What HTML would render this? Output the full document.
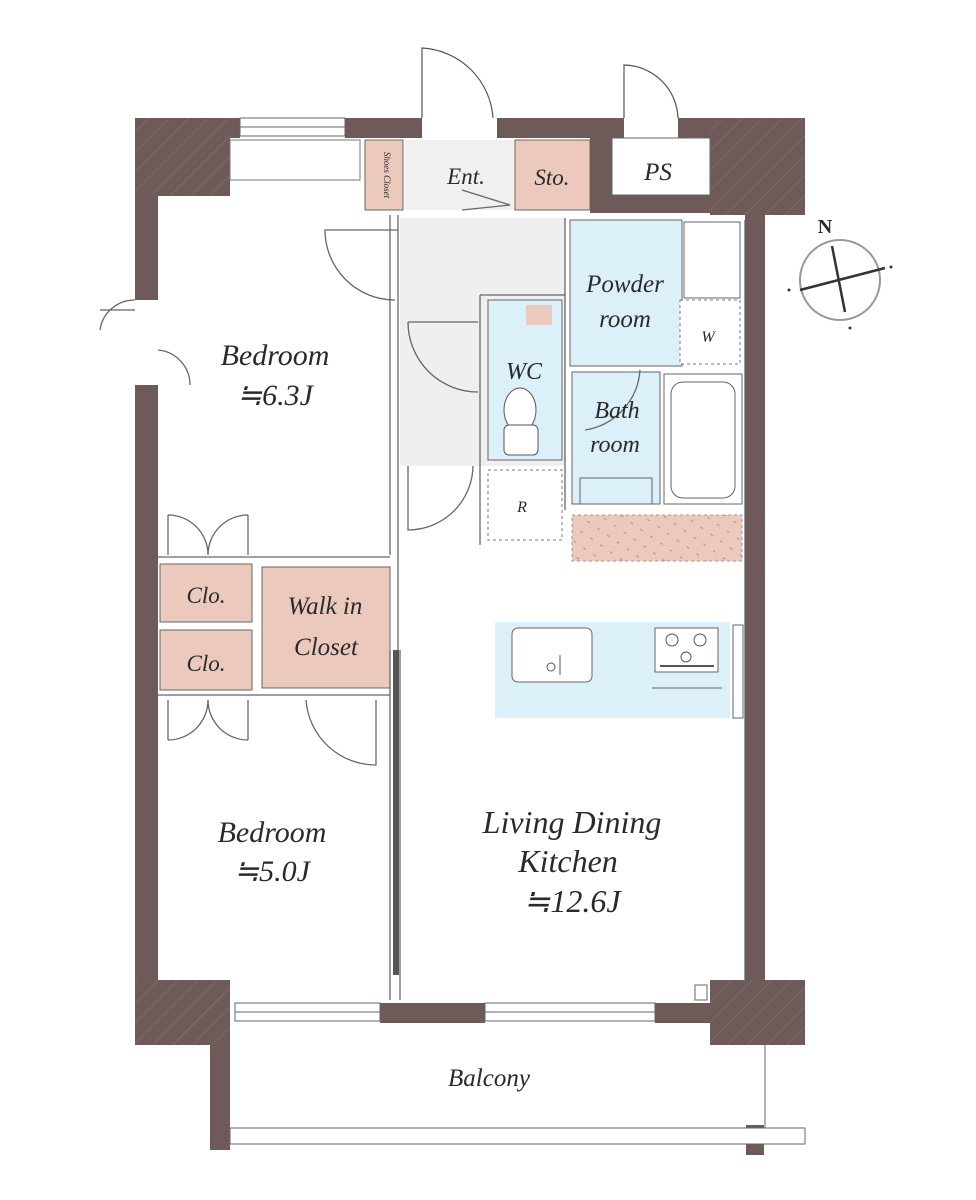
<!DOCTYPE html>
<html><head><meta charset="utf-8"><style>
html,body{margin:0;padding:0;background:#fff;}
svg{display:block}
text{font-family:"Liberation Serif",serif;font-style:italic;fill:#2a2a2a;text-anchor:middle}
</style></head><body>
<svg width="976" height="1200" viewBox="0 0 976 1200" xmlns="http://www.w3.org/2000/svg">
<defs>
<pattern id="h" width="14" height="14" patternUnits="userSpaceOnUse" patternTransform="rotate(-45)">
<rect width="14" height="14" fill="#6e5a58"/><line x1="0" y1="7" x2="14" y2="7" stroke="#7c6866" stroke-width="1"/></pattern>
<pattern id="ph" width="12" height="12" patternUnits="userSpaceOnUse" patternTransform="rotate(35)">
<rect width="12" height="12" fill="#ebc9bd"/><line x1="0" y1="6" x2="3" y2="6" stroke="#b89" stroke-width="1"/></pattern>
</defs>
<g fill="none" stroke="#555" stroke-width="1.2">
<path d="M422 118 V48 A75 75 0 0 1 493 118"/>
<path d="M624 118 V65 A55 55 0 0 1 678 118"/>
</g>
<rect x="158" y="180" width="232" height="375" fill="#fff"/>
<rect x="400" y="218" width="165" height="248" fill="#efefef"/>
<rect x="405" y="140" width="110" height="70" fill="#f0f0f0"/>
<rect x="365" y="140" width="38" height="70" fill="#ebc9bd" stroke="#666"/>
<rect x="515" y="140" width="75" height="70" fill="#ebc9bd" stroke="#666"/>
<rect x="488" y="300" width="74" height="160" fill="#dcf0fa" stroke="#666"/>
<rect x="526" y="305" width="26" height="20" fill="#ebc9bd"/>
<rect x="570" y="220" width="112" height="146" fill="#dcf0fa" stroke="#666"/>
<rect x="684" y="222" width="56" height="76" fill="#fff" stroke="#666"/>
<rect x="680" y="300" width="60" height="64" fill="#fff" stroke="#777" stroke-dasharray="3 3"/>
<rect x="572" y="372" width="88" height="132" fill="#dcf0fa" stroke="#666"/>
<rect x="664" y="374" width="78" height="130" fill="#fff" stroke="#666"/>
<rect x="671" y="382" width="64" height="116" rx="12" fill="none" stroke="#666"/>
<rect x="580" y="478" width="72" height="26" fill="none" stroke="#666"/>
<rect x="488" y="470" width="74" height="70" fill="#fff" stroke="#777" stroke-dasharray="3 3"/>
<rect x="572" y="515" width="170" height="46" fill="url(#ph)" stroke="#999" stroke-dasharray="3 3"/>
<rect x="160" y="564" width="92" height="58" fill="#ebc9bd" stroke="#666"/>
<rect x="160" y="630" width="92" height="60" fill="#ebc9bd" stroke="#666"/>
<rect x="262" y="567" width="128" height="121" fill="#ebc9bd" stroke="#666"/>
<rect x="495" y="622" width="235" height="96" fill="#dcf0fa"/>
<rect x="512" y="628" width="80" height="54" rx="6" fill="#fff" stroke="#666"/>
<circle cx="551" cy="667" r="4" fill="none" stroke="#555"/><line x1="560" y1="655" x2="560" y2="675" stroke="#555"/>
<rect x="655" y="628" width="63" height="44" fill="#fff" stroke="#666"/>
<circle cx="672" cy="640" r="6" fill="none" stroke="#555"/><circle cx="700" cy="640" r="6" fill="none" stroke="#555"/><circle cx="686" cy="657" r="5" fill="none" stroke="#555"/>
<line x1="660" y1="666" x2="714" y2="666" stroke="#555" stroke-width="2"/>
<line x1="652" y1="688" x2="722" y2="688" stroke="#666"/>
<rect x="733" y="625" width="10" height="93" fill="#fff" stroke="#666"/>
<g stroke="#666" fill="none" stroke-width="1.3">
<line x1="390" y1="215" x2="390" y2="555"/><line x1="398" y1="215" x2="398" y2="650"/>
<line x1="158" y1="557" x2="390" y2="557"/><line x1="158" y1="695" x2="390" y2="695"/>
<line x1="390" y1="650" x2="390" y2="1000"/><line x1="400" y1="650" x2="400" y2="1000"/>
<line x1="745" y1="220" x2="745" y2="985"/>
<line x1="565" y1="218" x2="565" y2="510"/>
<line x1="480" y1="295" x2="565" y2="295"/><line x1="480" y1="295" x2="480" y2="545"/>
<path d="M398 230 H325 A70 70 0 0 0 395 300"/>
<path d="M408 322 A70 70 0 0 0 478 392 M408 322 H478"/>
<path d="M408 466 V530 A65 65 0 0 0 473 466"/>
<path d="M306 700 A70 70 0 0 0 376 765 V700"/>
<path d="M168 515 V555 M168 515 A40 40 0 0 1 208 555 M248 515 V555 M248 515 A40 40 0 0 0 208 555"/>
<path d="M168 740 V700 M168 740 A40 40 0 0 0 208 700 M248 740 V700 M248 740 A40 40 0 0 1 208 700"/>
<path d="M135 310 H100 M100 330 A35 35 0 0 1 135 300 M158 350 A35 35 0 0 1 190 385"/>
<path d="M640 370 A65 65 0 0 1 585 430"/>
<path d="M462 190 L510 205 L462 210"/>
</g>
<rect x="393" y="650" width="6" height="325" fill="#555"/>
<g fill="#6e5a58">
<rect x="135" y="118" width="105" height="20"/>
<rect x="345" y="118" width="77" height="20"/>
<rect x="497" y="118" width="127" height="20"/>
<rect x="678" y="118" width="127" height="20"/>
<rect x="590" y="138" width="22" height="75"/>
<rect x="612" y="195" width="98" height="18"/>
<rect x="135" y="118" width="23" height="182"/>
<rect x="135" y="385" width="23" height="600"/>
<rect x="745" y="210" width="20" height="780"/>
<rect x="380" y="1003" width="105" height="20"/>
<rect x="655" y="1003" width="55" height="20"/>
<rect x="210" y="1020" width="20" height="130"/>
<rect x="746" y="1125" width="18" height="30"/>
</g>
<rect x="135" y="118" width="95" height="78" fill="url(#h)"/>
<rect x="710" y="118" width="95" height="97" fill="url(#h)"/>
<rect x="135" y="980" width="95" height="65" fill="url(#h)"/>
<rect x="710" y="980" width="95" height="65" fill="url(#h)"/>
<rect x="612" y="138" width="98" height="57" fill="#fff" stroke="#666"/>
<rect x="230" y="140" width="130" height="40" fill="#fff" stroke="#777"/>
<g stroke="#666" fill="#fff">
<rect x="240" y="118" width="105" height="18"/>
<rect x="235" y="1003" width="145" height="18"/>
<rect x="485" y="1003" width="170" height="18"/>
<rect x="230" y="1128" width="575" height="16"/>
<rect x="695" y="985" width="12" height="15"/>
</g>
<line x1="240" y1="127" x2="345" y2="127" stroke="#666"/>
<line x1="235" y1="1012" x2="380" y2="1012" stroke="#666"/>
<line x1="485" y1="1012" x2="655" y2="1012" stroke="#666"/>
<line x1="765" y1="1045" x2="765" y2="1128" stroke="#666"/>
<g stroke="#333" fill="none">
<circle cx="840" cy="280" r="40" stroke="#999" stroke-width="2"/>
<path d="M832 246 L845 312 M800 290 L885 268" stroke-width="2.5"/>
</g>
<circle cx="789" cy="290" r="1.5" fill="#333"/><circle cx="891" cy="267" r="1.5" fill="#333"/><circle cx="850" cy="328" r="1.5" fill="#333"/>
<text x="825" y="233" font-size="20" style="font-style:normal;font-weight:bold">N</text>
<text x="275" y="365" font-size="30">Bedroom</text>
<text x="275" y="405" font-size="30">≒6.3J</text>
<text x="272" y="842" font-size="30">Bedroom</text>
<text x="272" y="881" font-size="30">≒5.0J</text>
<text x="572" y="833" font-size="32">Living Dining</text>
<text x="568" y="872" font-size="32">Kitchen</text>
<text x="572" y="912" font-size="32">≒12.6J</text>
<text x="489" y="1086" font-size="25">Balcony</text>
<text x="206" y="603" font-size="23">Clo.</text>
<text x="206" y="671" font-size="23">Clo.</text>
<text x="325" y="614" font-size="25">Walk in</text>
<text x="326" y="655" font-size="25">Closet</text>
<text x="466" y="184" font-size="23">Ent.</text>
<text x="552" y="185" font-size="23">Sto.</text>
<text x="658" y="180" font-size="25">PS</text>
<text x="625" y="292" font-size="25">Powder</text>
<text x="625" y="327" font-size="25">room</text>
<text x="708" y="342" font-size="16">W</text>
<text x="524" y="379" font-size="24">WC</text>
<text x="617" y="418" font-size="24">Bath</text>
<text x="615" y="452" font-size="24">room</text>
<text x="522" y="512" font-size="16">R</text>
<text x="384" y="175" font-size="9" transform="rotate(90 384 175)">Shoes Closet</text>
<ellipse cx="520" cy="410" rx="16" ry="22" fill="#fff" stroke="#555"/>
<rect x="504" y="425" width="34" height="30" rx="5" fill="#fff" stroke="#555"/>
</svg>
</body></html>
